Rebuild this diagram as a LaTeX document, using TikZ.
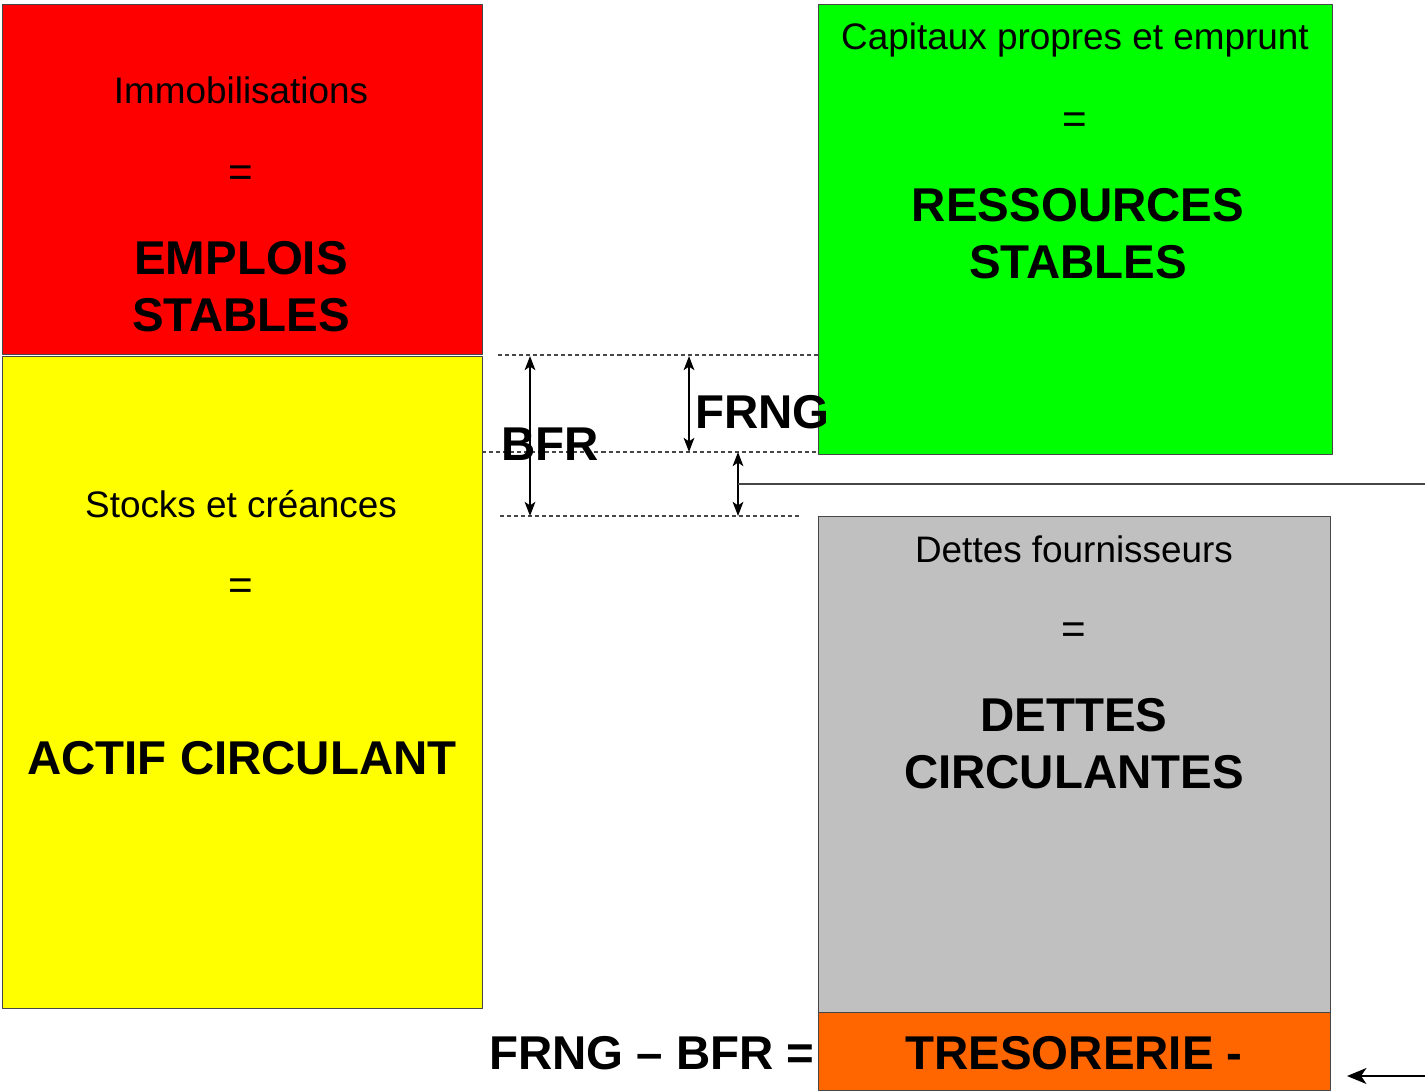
\documentclass[tikz,border=0pt]{standalone}
\usepackage{fontspec}
\setmainfont{Liberation Sans}
\usetikzlibrary{positioning,arrows.meta}
\definecolor{vert}{RGB}{0,255,0}
\definecolor{jaune}{RGB}{255,255,0}
\definecolor{gris}{RGB}{192,192,192}
\definecolor{tresor}{RGB}{255,102,0}
\definecolor{bord}{RGB}{70,70,70}
\tikzset{
  bloc/.style={draw=bord, line width=0.6pt, inner sep=0pt, anchor=north west},
  petit/.style={font=\fontsize{21}{25}\selectfont, inner sep=0pt},
  egal/.style={font=\fontsize{24}{28}\selectfont, inner sep=0pt},
  gros/.style={font=\fontsize{27}{32.3}\selectfont\bfseries, align=center, inner sep=0pt},
  pointille/.style={draw=bord, line width=0.7pt, dash pattern=on 2.3pt off 1.7pt},
  fleche/.style={{Stealth[length=8pt,width=6pt,inset=2pt]}-{Stealth[length=8pt,width=6pt,inset=2pt]}, line width=1.4pt}
}
\begin{document}
\begin{tikzpicture}[x=0.02cm, y=-0.02cm, >={Stealth[length=11pt,width=9pt,inset=3pt]}, line join=round]
\useasboundingbox (0,0) rectangle (1425,1091);
\node[bloc, fill=red, minimum width=9.6cm, minimum height=7cm] (emplois) at (2,4) {};
\node[bloc, fill=jaune, minimum width=9.6cm, minimum height=13.04cm] (actif) at (2,356) {};
\node[bloc, fill=vert, minimum width=10.28cm, minimum height=9cm] (ressources) at (818,4) {};
\node[bloc, fill=gris, minimum width=10.24cm, minimum height=9.92cm] (dettes) at (818,516) {};
\node[bloc, fill=tresor, minimum width=10.24cm, minimum height=1.56cm] (tresorerie) at (818,1012) {};
\node[petit, anchor=base] (immo) at (241,104) {Immobilisations};
\node[egal] (egal1) at (241,176) {=};
\node[gros] (es) at (241,287) {EMPLOIS\\STABLES};
\node[petit, anchor=base] (capitaux) at (1075,50) {Capitaux propres et emprunt};
\node[egal] (egal2) at (1075,123) {=};
\node[gros] (rs) at (1078,234) {RESSOURCES\\STABLES};
\node[petit, anchor=base] (stocks) at (241,517) {Stocks et créances};
\node[egal] (egal3) at (241,589) {=};
\node[gros, anchor=base] (ac) at (242,774) {ACTIF CIRCULANT};
\node[petit, anchor=base] (fournisseurs) at (1074,562) {Dettes fournisseurs};
\node[egal] (egal4) at (1074,633) {=};
\node[gros] (dc) at (1074,744) {DETTES\\CIRCULANTES};
\node[gros, anchor=base] (treso) at (1074,1069) {TRESORERIE -};
\node[gros, anchor=base east] (calcul) at (815,1069) {FRNG -- BFR =};
\coordinate (haut1) at (498,355);
\coordinate (haut2) at (818,355);
\coordinate (milieu1) at (482,452);
\coordinate (milieu2) at (818,452);
\coordinate (bas1) at (500,516);
\coordinate (bas2) at (802,516);
\draw[pointille] (haut1) -- (haut2);
\draw[pointille] (milieu1) -- (milieu2);
\draw[pointille] (bas1) -- (bas2);
\coordinate (bfrhaut) at (530,356);
\coordinate (bfrbas) at (530,516);
\coordinate (frnghaut) at (689,356);
\coordinate (frngbas) at (689,452);
\coordinate (tresohaut) at (738,452);
\coordinate (tresobas) at (738,516);
\coordinate (tresomilieu) at (738,484);
\coordinate (bordlien) at (1425,484);
\coordinate (departfleche) at (1425,1076);
\coordinate (arriveefleche) at (1347,1076);
\draw[fleche] (bfrhaut) -- (bfrbas);
\draw[fleche] (frnghaut) -- (frngbas);
\draw[fleche] (tresohaut) -- (tresobas);
\draw[draw=bord, line width=1.1pt] (tresomilieu) -- (bordlien);
\draw[->, line width=1.4pt] (departfleche) -- (arriveefleche);
\node[gros, anchor=base] (bfr) at (550,460) {BFR};
\node[gros, anchor=base west] (frng) at (695,428) {FRNG};
\end{tikzpicture}
\end{document}
